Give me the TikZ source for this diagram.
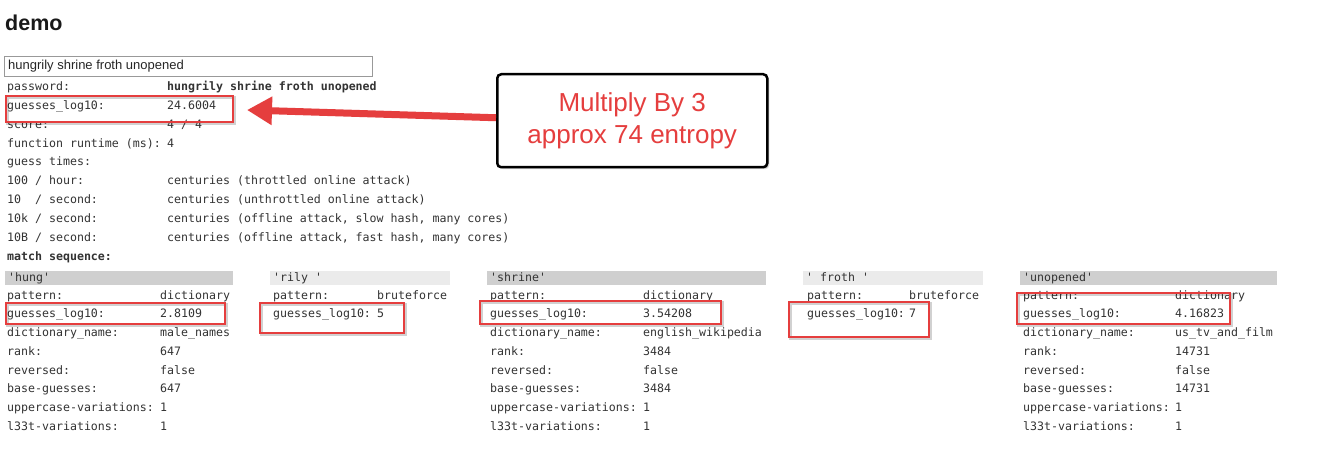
\documentclass[tikz,border=0pt]{standalone}
\usepackage{fontspec}
\setmainfont{Liberation Sans}
\newfontfamily\monof{DejaVu Sans Mono}
\usetikzlibrary{arrows.meta,shadows,calc}
\definecolor{txt}{HTML}{333333}
\definecolor{hlred}{HTML}{E53E3E}
\definecolor{bardark}{HTML}{CFCFCF}
\definecolor{barlight}{HTML}{EBEBEB}
\begin{document}
\begin{tikzpicture}[x=1pt,y=-1pt,
  mono/.style={anchor=base west,inner sep=0pt,font=\monof\fontsize{11.6}{14}\selectfont,text=txt},
  monob/.style={mono,font=\monof\bfseries\fontsize{11.6}{14}\selectfont},
  redbox/.style={draw=hlred,line width=2pt,inner sep=0pt,anchor=north west,
    preaction={draw=black,opacity=0.18,line width=3pt,transform canvas={xshift=1.5pt,yshift=-1.5pt}}},
  hbar/.style={inner sep=0pt,anchor=north west,minimum height=14pt},
  callout/.style={draw=black,line width=2.5pt,rounded corners=4pt,fill=white,
    drop shadow={shadow xshift=2pt,shadow yshift=-2pt,opacity=0.3,fill=gray},
    text=hlred,align=center,font=\fontsize{26}{32}\selectfont},
  pointer/.style={draw=hlred,line width=7pt,-{Triangle[length=25pt,width=27pt]}}
]
\useasboundingbox[fill=white] (0,0) rectangle (1320,468);

% title and input
\node[anchor=base west,inner sep=0pt,font=\bfseries\fontsize{21.5}{25}\selectfont,text=black!90] (title) at (5,31) {demo};
\node[draw=black!40,line width=1pt,minimum width=368pt,minimum height=20pt,anchor=north west,inner sep=0pt] (inp) at (4,56) {};
\node[anchor=west,inner sep=0pt,font=\fontsize{13}{15}\selectfont,text=black!85] (inptxt) at (8,66) {hungrily shrine froth unopened};

% top rows
\node[mono] (l1) at (7,91) {password:};
\node[monob] (v1) at (167,91) {hungrily shrine froth unopened};
\node[mono] (l2) at (7,110) {guesses\_log10:};
\node[mono] (v2) at (167,110) {24.6004};
\node[mono] (l3) at (7,129) {score:};
\node[mono] (v3) at (167,129) {4 / 4};
\node[mono] (l4) at (7,148) {function runtime (ms):};
\node[mono] (v4) at (167,148) {4};
\node[mono] (l5) at (7,166) {guess times:};
\node[mono] (l6) at (7,185) {100 / hour:};
\node[mono] (v6) at (167,185) {centuries (throttled online attack)};
\node[mono] (l7) at (7,203) {10~~/ second:};
\node[mono] (v7) at (167,203) {centuries (unthrottled online attack)};
\node[mono] (l8) at (7,222) {10k / second:};
\node[mono] (v8) at (167,222) {centuries (offline attack, slow hash, many cores)};
\node[mono] (l9) at (7,241) {10B / second:};
\node[mono] (v9) at (167,241) {centuries (offline attack, fast hash, many cores)};
\node[monob] (l10) at (7,260) {match sequence:};

\node[redbox,minimum width=227pt,minimum height=26pt] (gbox) at (5,95) {};

% callout
\node[callout,minimum width=270pt,minimum height=93pt,anchor=north west] (call) at (496,73) {Multiply By 3\\approx 74 entropy};
\draw[pointer] ([yshift=3pt]call.west) -- ([xshift=13pt,yshift=-1pt]gbox.east);

% header bars
\node[hbar,fill=bardark,minimum width=228pt] (b1) at (5,271) {};
\node[hbar,fill=barlight,minimum width=180pt] (b2) at (270,271) {};
\node[hbar,fill=bardark,minimum width=279pt] (b3) at (487,271) {};
\node[hbar,fill=barlight,minimum width=180pt] (b4) at (803,271) {};
\node[hbar,fill=bardark,minimum width=257pt] (b5) at (1020,271) {};

% column 1
\node[mono] (h1) at (8,281) {\textquotesingle hung\textquotesingle};
\node[mono] (c1a) at (7,299) {pattern:};
\node[mono] (c1av) at (160,299) {dictionary};
\node[mono] (c1b) at (7,317) {guesses\_log10:};
\node[mono] (c1bv) at (160,317) {2.8109};
\node[mono] (c1c) at (7,336) {dictionary\_name:};
\node[mono] (c1cv) at (160,336) {male\_names};
\node[mono] (c1d) at (7,355) {rank:};
\node[mono] (c1dv) at (160,355) {647};
\node[mono] (c1e) at (7,374) {reversed:};
\node[mono] (c1ev) at (160,374) {false};
\node[mono] (c1f) at (7,392) {base-guesses:};
\node[mono] (c1fv) at (160,392) {647};
\node[mono] (c1g) at (7,411) {uppercase-variations:};
\node[mono] (c1gv) at (160,411) {1};
\node[mono] (c1h) at (7,430) {l33t-variations:};
\node[mono] (c1hv) at (160,430) {1};
\node[redbox,minimum width=219pt,minimum height=21pt] (r1) at (5,302) {};

% column 2
\node[mono] (h2) at (273,281) {\textquotesingle rily \textquotesingle};
\node[mono] (c2a) at (273,299) {pattern:};
\node[mono] (c2av) at (377,299) {bruteforce};
\node[mono] (c2b) at (273,317) {guesses\_log10:};
\node[mono] (c2bv) at (377,317) {5};
\node[redbox,minimum width=144pt,minimum height=30pt] (r2) at (259,302) {};

% column 3
\node[mono] (h3) at (490,281) {\textquotesingle shrine\textquotesingle};
\node[mono] (c3a) at (490,299) {pattern:};
\node[mono] (c3av) at (643,299) {dictionary};
\node[mono] (c3b) at (490,317) {guesses\_log10:};
\node[mono] (c3bv) at (643,317) {3.54208};
\node[mono] (c3c) at (490,336) {dictionary\_name:};
\node[mono] (c3cv) at (643,336) {english\_wikipedia};
\node[mono] (c3d) at (490,355) {rank:};
\node[mono] (c3dv) at (643,355) {3484};
\node[mono] (c3e) at (490,374) {reversed:};
\node[mono] (c3ev) at (643,374) {false};
\node[mono] (c3f) at (490,392) {base-guesses:};
\node[mono] (c3fv) at (643,392) {3484};
\node[mono] (c3g) at (490,411) {uppercase-variations:};
\node[mono] (c3gv) at (643,411) {1};
\node[mono] (c3h) at (490,430) {l33t-variations:};
\node[mono] (c3hv) at (643,430) {1};
\node[redbox,minimum width=241pt,minimum height=23pt] (r3) at (479,300) {};

% column 4
\node[mono] (h4) at (806,281) {\textquotesingle{} froth \textquotesingle};
\node[mono] (c4a) at (807,299) {pattern:};
\node[mono] (c4av) at (909,299) {bruteforce};
\node[mono] (c4b) at (807,317) {guesses\_log10:};
\node[mono] (c4bv) at (909,317) {7};
\node[redbox,minimum width=140pt,minimum height=35pt] (r4) at (788,301) {};

% column 5
\node[mono] (h5) at (1023,281) {\textquotesingle unopened\textquotesingle};
\node[mono] (c5a) at (1023,299) {pattern:};
\node[mono] (c5av) at (1175,299) {dictionary};
\node[mono] (c5b) at (1023,317) {guesses\_log10:};
\node[mono] (c5bv) at (1175,317) {4.16823};
\node[mono] (c5c) at (1023,336) {dictionary\_name:};
\node[mono] (c5cv) at (1175,336) {us\_tv\_and\_film};
\node[mono] (c5d) at (1023,355) {rank:};
\node[mono] (c5dv) at (1175,355) {14731};
\node[mono] (c5e) at (1023,374) {reversed:};
\node[mono] (c5ev) at (1175,374) {false};
\node[mono] (c5f) at (1023,392) {base-guesses:};
\node[mono] (c5fv) at (1175,392) {14731};
\node[mono] (c5g) at (1023,411) {uppercase-variations:};
\node[mono] (c5gv) at (1175,411) {1};
\node[mono] (c5h) at (1023,430) {l33t-variations:};
\node[mono] (c5hv) at (1175,430) {1};
\node[redbox,minimum width=213pt,minimum height=31pt] (r5) at (1016,292) {};
\end{tikzpicture}
\end{document}
